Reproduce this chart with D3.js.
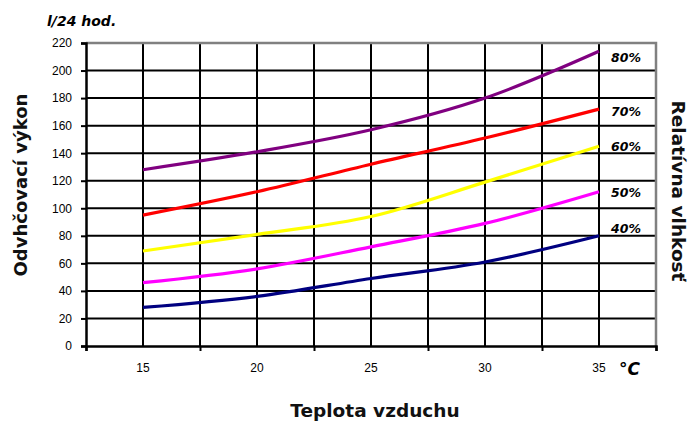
<!DOCTYPE html>
<html>
<head>
<meta charset="utf-8">
<script src="https://cdn.jsdelivr.net/npm/d3@7"></script>
<style>
  body { margin: 0; background: #fff; }
  svg text { font-family: "Liberation Sans", Arial, sans-serif; fill: #000; }
  .title { font-family: "DejaVu Sans", sans-serif; font-weight: bold; fill: #111; }
  .lbl { font-family: "DejaVu Sans", sans-serif; font-weight: bold; font-style: italic; }
</style>
</head>
<body>
<svg width="692" height="421"></svg>
<script>
const temps = [15, 20, 25, 30, 35];
const humidity = ["40%", "50%", "60%", "70%", "80%"];
const colors = ["#000080", "#ff00ff", "#ffff00", "#ff0000", "#800080"];
const output40 = [28, 36, 49, 61, 80];
const output50 = [46, 56, 72, 89, 112];
const output60 = [69, 81, 94, 119, 145];
const output70 = [95, 112, 132, 151, 172];
const output80 = [128, 141, 157, 180, 214];
const yTicks = [0, 20, 40, 60, 80, 100, 120, 140, 160, 180, 200, 220];
const xGrid = [12.5, 15, 17.5, 20, 22.5, 25, 27.5, 30, 32.5, 35, 37.5];
const xTickMarks = [12.5, 17.5, 22.5, 27.5, 32.5, 37.5];

const series = [output40, output50, output60, output70, output80];

const svg = d3.select("svg"),
  pLeft = 86, pRight = 656, pTop = 43, pBottom = 346;

const x = d3.scaleLinear().domain([12.5, 37.5]).range([pLeft, pRight]);
const y = d3.scaleLinear().domain([0, 220]).range([pBottom, pTop]);

// grid
svg.append("g").selectAll("line")
  .data(yTicks.filter(d => d > 0 && d < 220))
  .enter().append("line")
  .attr("x1", pLeft).attr("x2", pRight)
  .attr("y1", d => y(d)).attr("y2", d => y(d))
  .attr("stroke", "#000").attr("stroke-width", 2);

svg.append("g").selectAll("line")
  .data(xGrid.slice(1, -1))
  .enter().append("line")
  .attr("x1", d => x(d)).attr("x2", d => x(d))
  .attr("y1", pTop).attr("y2", pBottom)
  .attr("stroke", "#000").attr("stroke-width", 2);

// plot border (top/right grey)
svg.append("path")
  .attr("d", `M${pLeft},${pTop}H${pRight}V${pBottom}`)
  .attr("fill", "none").attr("stroke", "#808080").attr("stroke-width", 2.5);

// y axis
const yAxis = svg.append("g")
  .attr("transform", `translate(${pLeft},0)`)
  .call(d3.axisLeft(y).tickValues(yTicks).tickSize(5).tickPadding(9));
yAxis.select(".domain").attr("stroke", "#000").attr("stroke-width", 2.5);
yAxis.selectAll(".tick line").attr("stroke", "#000").attr("stroke-width", 2);
yAxis.selectAll("text").style("font-size", "12px").attr("fill", "#000");

// x axis
const xAxis = svg.append("g")
  .attr("transform", `translate(0,${pBottom})`)
  .call(d3.axisBottom(x).tickValues(xTickMarks).tickSize(5).tickFormat(""));
xAxis.select(".domain").attr("stroke", "#000").attr("stroke-width", 2.5);
xAxis.selectAll(".tick line").attr("stroke", "#000").attr("stroke-width", 2);

svg.append("g").selectAll("text")
  .data(temps)
  .enter().append("text")
  .attr("x", d => x(d)).attr("y", 372)
  .attr("text-anchor", "middle")
  .style("font-size", "12px")
  .text(d => d);

// lines
const line = d3.line()
  .x((d, i) => x(temps[i]))
  .y(d => y(d))
  .curve(d3.curveMonotoneX);

svg.append("g").selectAll("path")
  .data(series)
  .enter().append("path")
  .attr("d", d => line(d))
  .attr("fill", "none")
  .attr("stroke", (d, i) => colors[i])
  .attr("stroke-width", 3.2);

// humidity labels
const labelY = [233, 197, 151, 116, 62];
svg.append("g").selectAll("text")
  .data(humidity)
  .enter().append("text")
  .attr("class", "lbl")
  .attr("x", 611)
  .attr("y", (d, i) => labelY[i])
  .style("font-size", "12.5px")
  .text(d => d);

// titles
svg.append("text").attr("class", "lbl")
  .attr("x", 47).attr("y", 26).style("font-size", "14px").text("l/24 hod.");

svg.append("text").attr("class", "lbl")
  .attr("x", 619).attr("y", 375).style("font-size", "17px").text("°C");

svg.append("text").attr("class", "title")
  .attr("x", 375).attr("y", 417).attr("text-anchor", "middle")
  .style("font-size", "18.5px").text("Teplota vzduchu");

svg.append("text").attr("class", "title")
  .attr("transform", "translate(27,185) rotate(-90)")
  .attr("text-anchor", "middle")
  .style("font-size", "18px").text("Odvhčovací výkon");

svg.append("text").attr("class", "title")
  .attr("transform", "translate(672,191) rotate(90)")
  .attr("text-anchor", "middle")
  .style("font-size", "18.5px").text("Relatívna vlhkosť");
</script>
</body>
</html>
